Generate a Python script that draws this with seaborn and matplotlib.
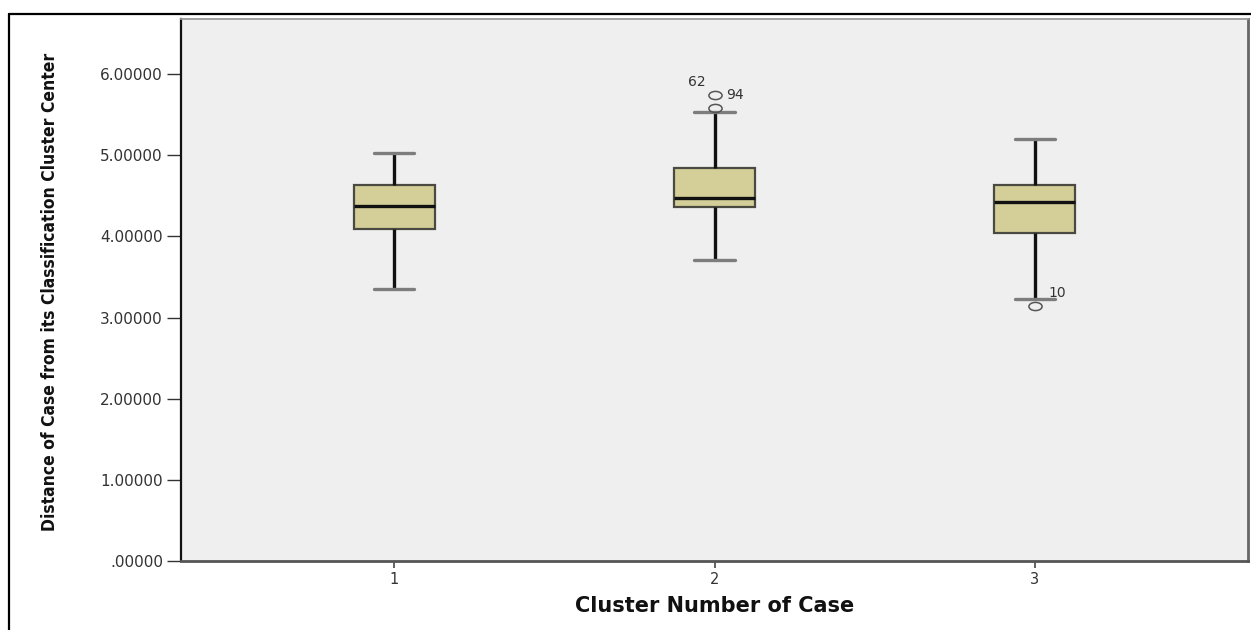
import matplotlib
matplotlib.use("Agg")
import numpy as np
import pandas as pd
import seaborn as sns
import matplotlib.pyplot as plt
from matplotlib.path import Path
from matplotlib.transforms import Affine2D
from matplotlib.lines import Line2D

# Box summaries per cluster (distance of case from its classification cluster center)
clusters = ["1", "2", "3"]
whisker_low = [3.35, 3.71, 3.23]
q1 = [4.09, 4.36, 4.04]
median = [4.37, 4.48, 4.42]
q3 = [4.63, 4.84, 4.63]
whisker_high = [5.03, 5.53, 5.20]
outlier_values = [[], [5.58, 5.74], [3.14]]
outlier_cases = [[], ["62", "94"], ["10"]]

y_ticks = [0, 1, 2, 3, 4, 5, 6]
y_tick_labels = [".00000", "1.00000", "2.00000", "3.00000",
                 "4.00000", "5.00000", "6.00000"]

x_title = "Cluster Number of Case"
y_title = "Distance of Case from its Classification Cluster Center"

# Long-form sample whose quartiles, whisker ends and outliers equal the summaries
rows = []
for i, c in enumerate(clusters):
    vals = ([whisker_low[i]] + [q1[i]] * 20 + [median[i]] * 20 + [q3[i]] * 20
            + [whisker_high[i]] + list(outlier_values[i]))
    rows += [(c, v) for v in vals]
df = pd.DataFrame(rows, columns=["cluster", "distance"])

sns.set_theme(style="white")
plt.rcParams["font.family"] = ["DejaVu Sans"]

fig = plt.figure(figsize=(12.51, 6.30), dpi=100)
ax = fig.add_axes([181 / 1251, 1 - 561 / 630, (1248 - 181) / 1251, (561 - 19) / 630])
ax.set_facecolor("#efefef")

# Slightly flattened open circle for outliers
ellipse = Path.unit_circle().transformed(Affine2D().scale(1.0, 0.62))

sns.boxplot(
    data=df, x="cluster", y="distance", order=clusters, ax=ax,
    width=0.253, color="#d4cf98", saturation=1, linecolor="#3a3a3a",
    linewidth=1.5, whis=1.5,
    boxprops=dict(edgecolor="#4a4a42", linewidth=1.6),
    whiskerprops=dict(color="#111111", linewidth=2.4),
    capprops=dict(color="#7d7d7d", linewidth=2.4),
    medianprops=dict(color="#111111", linewidth=2.4),
    flierprops=dict(marker=ellipse, markersize=9.5, markerfacecolor="none",
                    markeredgecolor="#555555", markeredgewidth=1.1),
)

# Case-number labels next to the outliers
label_offsets = {"62": (-13, 18.7), "94": (14.4, 0), "10": (15.8, 9.4)}
for i, (vals, cases) in enumerate(zip(outlier_values, outlier_cases)):
    for v, case in zip(vals, cases):
        ax.annotate(case, xy=(i, v), xytext=label_offsets[case],
                    textcoords="offset points", ha="center", va="center",
                    fontsize=10, color="#333333")

ax.set_xlim(-0.665, 2.665)
ax.set_ylim(0, 6.68)
ax.set_yticks(y_ticks)
ax.set_yticklabels(y_tick_labels)

ax.tick_params(axis="y", which="major", direction="out", length=10, width=1.0,
               color="#333333", labelsize=11, labelcolor="#333333", pad=3, left=True)
ax.tick_params(axis="x", which="major", direction="out", length=5, width=1.3,
               color="#555555", labelsize=10.5, labelcolor="#333333", pad=3, bottom=True)

for side, col, lw in [("left", "#111111", 1.6), ("bottom", "#555555", 2.0),
                      ("right", "#666666", 2.0), ("top", "#999999", 1.3)]:
    ax.spines[side].set_visible(True)
    ax.spines[side].set_color(col)
    ax.spines[side].set_linewidth(lw)

ax.set_xlabel(x_title, fontsize=15, fontweight="bold", color="#111111")
ax.xaxis.label.set_va("center")
ax.xaxis.set_label_coords(0.5, -0.083)

ax.set_ylabel(y_title, fontsize=13.5, fontweight="bold", color="#111111",
              fontstretch="condensed")
ax.yaxis.label.set_va("center")
ax.yaxis.set_label_coords(-0.1228, 0.496)

# Fit the vertical title to its span of about 480 px
renderer = fig.canvas.get_renderer()
ylab = ax.yaxis.label
span = ylab.get_window_extent(renderer).height
ylab.set_fontsize(13.5 * 480 / span)

# Outer frame around the figure
top_y = 1 - 14 / 630
left_x = 9 / 1251
fig.add_artist(Line2D([left_x, left_x], [0, top_y], transform=fig.transFigure,
                      color="black", linewidth=1.6))
fig.add_artist(Line2D([left_x, 1], [top_y, top_y], transform=fig.transFigure,
                      color="black", linewidth=1.6))

fig.savefig("out.png", dpi=100, facecolor="white")
